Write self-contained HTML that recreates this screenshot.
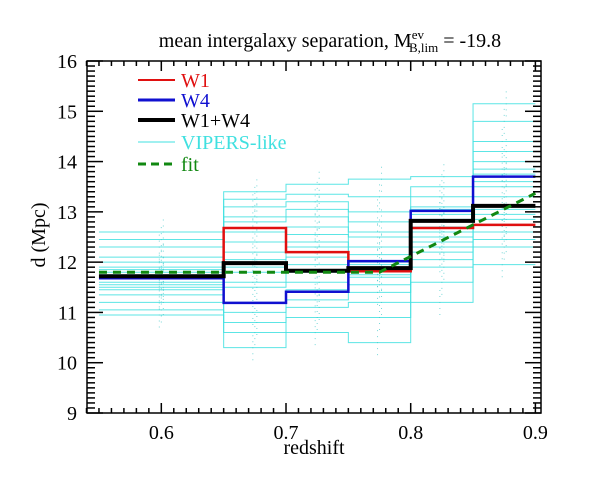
<!DOCTYPE html>
<html><head><meta charset="utf-8"><style>
html,body{margin:0;padding:0;background:#fff;}
svg{display:block;font-family:"Liberation Serif",serif;}
</style></head><body>
<svg id="chart" width="600" height="481" viewBox="0 0 600 481">
<text x="330" y="47" font-size="20" text-anchor="middle">mean intergalaxy separation, M<tspan font-size="13" dy="-8">ev</tspan><tspan font-size="13" dx="-15" dy="13">B,lim</tspan><tspan dy="-5"> = -19.8</tspan></text>
<text x="314" y="454" font-size="20" text-anchor="middle">redshift</text>
<text transform="translate(45,235) rotate(-90)" font-size="20" text-anchor="middle">d (Mpc)</text>
<g id="plot"></g>
<g id="legend">
<line x1="138" y1="80" x2="175" y2="80" stroke="#e01010" stroke-width="2"/>
<text x="181" y="87" font-size="20" fill="#e01010">W1</text>
<line x1="138" y1="100" x2="175" y2="100" stroke="#1010d0" stroke-width="3"/>
<text x="181" y="107" font-size="20" fill="#1010d0">W4</text>
<line x1="138" y1="120" x2="175" y2="120" stroke="#000" stroke-width="4"/>
<text x="181" y="127" font-size="20">W1+W4</text>
<line x1="138" y1="142" x2="175" y2="142" stroke="#40e0e0" stroke-width="1"/>
<text x="181" y="149" font-size="20" fill="#40e0e0">VIPERS-like</text>
<line x1="138" y1="164" x2="175" y2="164" stroke="#118811" stroke-width="3" stroke-dasharray="8,5"/>
<text x="181" y="171" font-size="20" fill="#118811">fit</text>
</g>
</svg>
<script>
const binEdges=[0.55,0.65,0.7,0.75,0.8,0.85,0.9];
const w1=[11.72,12.68,12.2,11.82,12.68,12.74];
const w4=[11.68,11.19,11.41,12.02,13.02,13.7];
const w1w4=[11.72,11.98,11.83,11.88,12.82,13.12];
const fitX=[0.55,0.775,0.9];
const fitY=[11.8,11.8,13.37];
const mockBin1=[10.95,11.05,11.2,11.35,11.45,11.5,11.55,11.6,11.7,11.75,11.8,11.85,11.9,12.0,12.1,12.3,12.45,12.6];
const mockBin2=[10.3,10.6,10.8,11.0,11.2,11.5,11.6,11.8,11.9,12.05,12.2,12.4,12.6,12.8,12.9,13.1,13.25,13.4];
const mockBin3=[10.6,10.9,11.1,11.25,11.45,11.6,11.8,11.95,12.1,12.3,12.4,12.55,12.7,12.9,13.05,13.2,13.35,13.55];
const mockBin4=[10.4,10.9,11.2,11.4,11.55,11.7,11.75,11.85,11.95,12.0,12.15,12.3,12.5,12.6,12.8,13.0,13.3,13.65];
const mockBin5=[11.2,11.6,11.9,12.05,12.2,12.3,12.4,12.5,12.6,12.7,12.8,12.85,12.95,13.05,13.1,13.3,13.5,13.7];
const mockBin6=[11.95,12.3,12.45,12.6,12.75,12.85,12.95,13.05,13.3,13.5,13.6,13.75,13.85,14.0,14.2,14.4,14.8,15.15];
const xTicks=[0.6,0.7,0.8,0.9];
const yTicks=[9,10,11,12,13,14,15,16];

const X0=87,X1=541,Y0=413,Y1=61,xmin=0.5404,xmax=0.9045,ymin=9,ymax=16;
const sx=v=>X0+(v-xmin)/(xmax-xmin)*(X1-X0);
const sy=v=>Y0-(v-ymin)/(ymax-ymin)*(Y0-Y1);
const NS='http://www.w3.org/2000/svg';
const plot=document.getElementById('plot');
function mk(tag,attrs,parent){const e=document.createElementNS(NS,tag);for(const k in attrs)e.setAttribute(k,attrs[k]);(parent||plot).appendChild(e);return e;}
function stepPath(vals){let d='';for(let i=0;i<vals.length;i++){const xa=sx(binEdges[i]),xb=sx(binEdges[i+1]),y=sy(vals[i]);d+=(i?'L':'M')+xa+','+y+'L'+xb+','+y;}return d;}

const mocks=[mockBin1,mockBin2,mockBin3,mockBin4,mockBin5,mockBin6];
const gm=mk('g',{});


for(let m=0;m<mockBin1.length;m++){
  const vals=mocks.map(b=>b[m]);
  const p=mk('path',{d:stepPath(vals),fill:'none',stroke:'#40e0e0','stroke-width':1,opacity:0.85},gm);
  
  
  for(let i=0;i<vals.length;i++){
    const xc=sx((binEdges[i]+binEdges[i+1])/2)+((m%3)-1)*2;
    const e=mk('line',{x1:xc,x2:xc,y1:sy(vals[i]-0.25),y2:sy(vals[i]+0.25),stroke:'#40c8c8','stroke-width':1,'stroke-dasharray':'1,5',opacity:0.7},gm);
    
    
  }
}
const sr=mk('path',{d:stepPath(w1),fill:'none',stroke:'#e01010','stroke-width':2.5});


const sb=mk('path',{d:stepPath(w4),fill:'none',stroke:'#1010d0','stroke-width':2.5});


const sk=mk('path',{d:stepPath(w1w4),fill:'none',stroke:'#000','stroke-width':4});


const fd=fitX.map((v,i)=>(i?'L':'M')+sx(v)+','+sy(fitY[i])).join('');
const fl=mk('path',{d:fd,fill:'none',stroke:'#118811','stroke-width':3,'stroke-dasharray':'8,6'});



const fr=mk('rect',{x:X0,y:Y1,width:X1-X0,height:Y0-Y1,fill:'none',stroke:'#000','stroke-width':1.5});


const tg=mk('g',{stroke:'#000','stroke-width':1.5});


for(let k=54;k<=90;k++){const v=k/100,x=sx(v);const major=k%10==0;const L=major?10:5;
  mk('line',{x1:x,x2:x,y1:Y0,y2:Y0-L},tg);mk('line',{x1:x,x2:x,y1:Y1,y2:Y1+L},tg);}
for(let k=90;k<=160;k++){const v=k/10,y=sy(v);const major=k%10==0;const L=major?16:8;
  mk('line',{x1:X0,x2:X0+L,y1:y,y2:y},tg);mk('line',{x1:X1,x2:X1-L,y1:y,y2:y},tg);}
xTicks.forEach(v=>{const t=mk('text',{x:sx(v),y:Y0+26,'font-size':20,'text-anchor':'middle'});t.textContent=v.toFixed(1);
  
  });
yTicks.forEach(v=>{const t=mk('text',{x:X0-10,y:sy(v)+7,'font-size':20,'text-anchor':'end'});t.textContent=String(v);
  
  });
</script>
</body></html>
